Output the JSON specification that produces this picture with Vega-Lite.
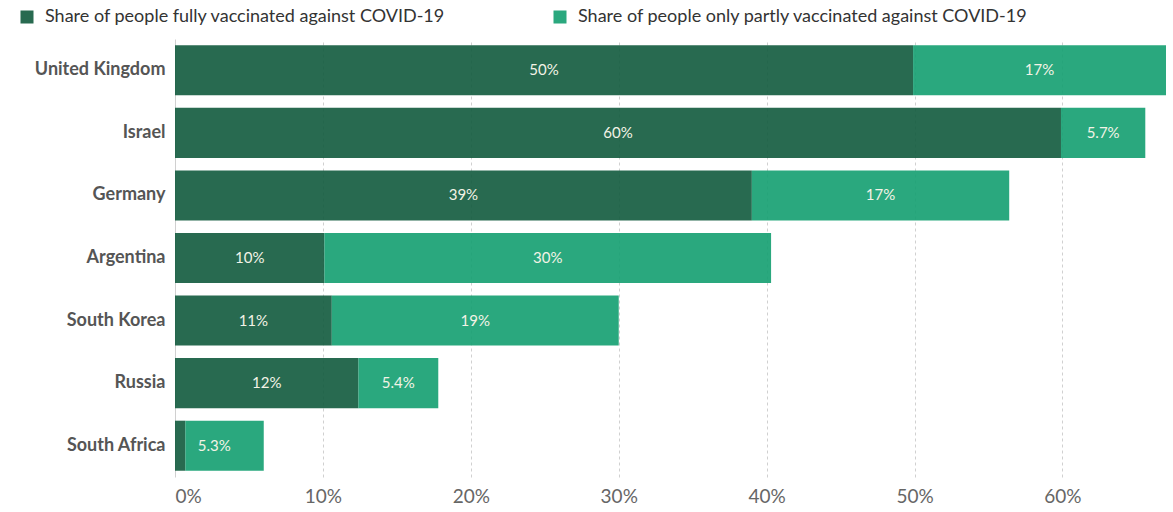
{
  "$schema": "https://vega.github.io/schema/vega-lite/v6.json",
  "autosize": {"type": "none"},
  "padding": {"left": 175, "top": 39, "right": 7, "bottom": 35},
  "width": 991,
  "height": 438,
  "config": {"font": "Lato", "view": {"stroke": null}},
  "data": {"values": [
    {"country": "United Kingdom", "type": "Share of people fully vaccinated against COVID-19", "share": 0.499},
    {"country": "United Kingdom", "type": "Share of people only partly vaccinated against COVID-19", "share": 0.171},
    {"country": "Israel", "type": "Share of people fully vaccinated against COVID-19", "share": 0.599},
    {"country": "Israel", "type": "Share of people only partly vaccinated against COVID-19", "share": 0.057},
    {"country": "Germany", "type": "Share of people fully vaccinated against COVID-19", "share": 0.390},
    {"country": "Germany", "type": "Share of people only partly vaccinated against COVID-19", "share": 0.174},
    {"country": "Argentina", "type": "Share of people fully vaccinated against COVID-19", "share": 0.101},
    {"country": "Argentina", "type": "Share of people only partly vaccinated against COVID-19", "share": 0.302},
    {"country": "South Korea", "type": "Share of people fully vaccinated against COVID-19", "share": 0.106},
    {"country": "South Korea", "type": "Share of people only partly vaccinated against COVID-19", "share": 0.194},
    {"country": "Russia", "type": "Share of people fully vaccinated against COVID-19", "share": 0.124},
    {"country": "Russia", "type": "Share of people only partly vaccinated against COVID-19", "share": 0.054},
    {"country": "South Africa", "type": "Share of people fully vaccinated against COVID-19", "share": 0.007},
    {"country": "South Africa", "type": "Share of people only partly vaccinated against COVID-19", "share": 0.053}
  ]},
  "encoding": {
    "y": {
      "field": "country", "type": "nominal",
      "sort": ["United Kingdom", "Israel", "Germany", "Argentina", "South Korea", "Russia", "South Africa"],
      "scale": {"paddingInner": 0.2, "paddingOuter": 0.1},
      "axis": {"title": null, "ticks": false, "domain": false, "labelFontSize": 18, "labelFontWeight": "bold", "labelColor": "#555555", "labelPadding": 10}
    }
  },
  "layer": [
    {
      "mark": {"type": "bar", "opacity": 0.9},
      "encoding": {
        "x": {
          "field": "share", "type": "quantitative", "stack": "zero",
          "scale": {"domain": [0, 0.67], "nice": false},
          "axis": {"title": null, "values": [0, 0.1, 0.2, 0.3, 0.4, 0.5, 0.6], "format": ".0%", "ticks": false, "domain": false, "grid": true, "gridDash": {"condition": {"test": "datum.value === 0", "value": []}, "value": [3, 3]}, "gridColor": "#d0d0d0", "labelFontSize": 19, "labelColor": "#666666", "labelPadding": 10}
        },
        "color": {
          "field": "type", "type": "nominal",
          "scale": {"domain": ["Share of people fully vaccinated against COVID-19", "Share of people only partly vaccinated against COVID-19"], "range": ["#115a3d", "#139e70"]},
          "legend": {"title": null, "orient": "none", "direction": "horizontal", "legendX": -157, "legendY": -31, "symbolType": "square", "symbolSize": 169, "symbolStrokeWidth": 0, "labelFontSize": 18, "labelColor": "#333333", "columnPadding": 105, "labelOffset": 9, "labelLimit": 0}
        },
        "order": {"field": "type", "sort": "ascending"}
      }
    },
    {
      "transform": [{"filter": "datum.share > 0.02"}],
      "mark": {"type": "text", "color": "#f3f3e6", "fontSize": 15, "baseline": "middle", "align": "center"},
      "encoding": {
        "x": {"field": "share", "type": "quantitative", "stack": "zero", "bandPosition": 0.5},
        "detail": {"field": "type"},
        "order": {"field": "type", "sort": "ascending"},
        "text": {"field": "share", "type": "quantitative", "format": ".2~p"}
      }
    }
  ]
}
